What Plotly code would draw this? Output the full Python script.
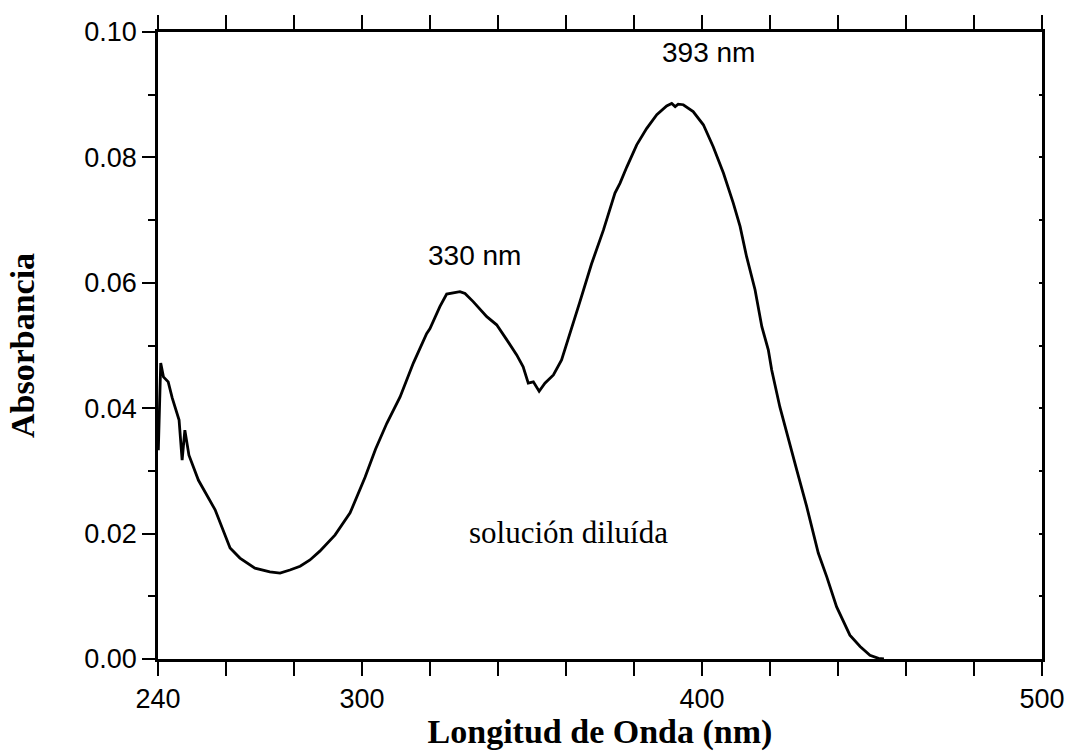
import plotly.graph_objects as go

wavelength_nm = [240.1, 240.8, 241.6, 243.0, 244.2, 246.2, 247.1, 247.9, 249.1, 251.9,
                 256.8, 261.2, 264.1, 268.5, 272.9, 275.9, 278.8, 281.8, 284.7, 287.6,
                 292.1, 296.5, 300.9, 304.0, 307.3, 311.2, 315.1, 319.0, 320.0, 322.9,
                 324.9, 326.9, 328.8, 330.3, 332.7, 336.7, 339.6, 342.6, 345.5, 347.4,
                 348.9, 350.4, 352.1, 353.8, 356.3, 358.7, 361.2, 364.1, 367.5, 371.0,
                 374.4, 375.9, 377.9, 380.8, 383.7, 386.7, 389.6, 391.1, 392.1, 393.0,
                 394.5, 397.4, 400.4, 403.3, 406.3, 409.2, 411.2, 413.1, 415.6, 417.6,
                 419.5, 420.5, 422.9, 424.9, 427.9, 430.8, 434.2, 436.7, 439.6, 443.5,
                 446.5, 449.4, 451.9, 453.5]
absorbance = [0.0333, 0.0472, 0.0450, 0.0442, 0.0416, 0.0381, 0.0317, 0.0365, 0.0325, 0.0285,
              0.0238, 0.0177, 0.0161, 0.0145, 0.0139, 0.0137, 0.0142, 0.0148, 0.0158, 0.0172,
              0.0198, 0.0233, 0.0290, 0.0335, 0.0376, 0.0418, 0.0472, 0.0519, 0.0527, 0.0562,
              0.0582, 0.0584, 0.0586, 0.0583, 0.0570, 0.0546, 0.0533, 0.0509, 0.0485, 0.0466,
              0.0440, 0.0442, 0.0427, 0.0440, 0.0453, 0.0477, 0.0519, 0.0570, 0.0630, 0.0684,
              0.0743, 0.0759, 0.0785, 0.0820, 0.0846, 0.0868, 0.0882, 0.0886, 0.0881, 0.0885,
              0.0884, 0.0873, 0.0852, 0.0817, 0.0775, 0.0727, 0.0690, 0.0642, 0.0589, 0.0530,
              0.0493, 0.0461, 0.0402, 0.0360, 0.0301, 0.0243, 0.0169, 0.0131, 0.0083, 0.0038,
              0.0020, 0.0006, 0.0001, 0.0000]

x_ticks = [240, 300, 400, 500]
peak_labels = ["330 nm", "393 nm"]
peak_label_x = [333.0, 402.0]
peak_label_y = [0.0644, 0.0968]
sample_label = "solución diluída"

TICKFONT = dict(family="Liberation Sans, Arial", size=27, color="black")
TITLEFONT = dict(family="Liberation Serif, Times New Roman", size=34, color="black", weight="bold")

fig = go.Figure()
fig.add_trace(go.Scatter(x=wavelength_nm, y=absorbance, mode="lines",
                         line=dict(color="black", width=2.8), showlegend=False,
                         hoverinfo="skip"))
fig.add_trace(go.Scatter(x=[None], y=[None], yaxis="y2", showlegend=False, hoverinfo="skip"))

for txt, x, y in zip(peak_labels, peak_label_x, peak_label_y):
    fig.add_annotation(x=x, y=y, text=txt, showarrow=False,
                       font=dict(family="Liberation Sans, Arial", size=28, color="black"))
fig.add_annotation(x=360.6, y=0.0201, text=sample_label, showarrow=False,
                   font=dict(family="Liberation Serif, Times New Roman", size=31, color="black"))

fig.update_layout(
    width=1071, height=751,
    margin=dict(l=158, r=29, t=32, b=92),
    paper_bgcolor="white", plot_bgcolor="white",
    xaxis=dict(range=[240, 500], tickvals=x_ticks, ticktext=[str(v) for v in x_ticks],
               ticks="outside", ticklen=14, tickwidth=2, tickcolor="black",
               minor=dict(tick0=240, dtick=20, ticks="outside", ticklen=7, tickwidth=2,
                          tickcolor="black", showgrid=False),
               showline=True, linewidth=2.5, linecolor="black", mirror="allticks",
               showgrid=False, zeroline=False, tickfont=TICKFONT, automargin=False,
               title=dict(text="Longitud de Onda (nm)", font=TITLEFONT, standoff=6)),
    yaxis=dict(range=[0, 0.1], dtick=0.02, tick0=0, tickformat=".2f",
               ticks="outside", ticklen=13, tickwidth=2, tickcolor="black",
               minor=dict(dtick=0.01, ticks="outside", ticklen=7, tickwidth=2,
                          tickcolor="black", showgrid=False),
               showline=True, linewidth=2.5, linecolor="black", mirror=True,
               showgrid=False, zeroline=False, tickfont=TICKFONT, automargin=False,
               title=dict(text="Absorbancia", font=TITLEFONT, standoff=40)),
    yaxis2=dict(range=[0, 0.1], overlaying="y", side="right", dtick=0.02, tick0=0,
                ticks="inside", ticklen=3, tickwidth=2, tickcolor="black",
                minor=dict(dtick=0.01, ticks="inside", ticklen=3, tickwidth=2,
                           tickcolor="black", showgrid=False),
                showticklabels=False, showline=False, showgrid=False, zeroline=False,
                automargin=False),
)

fig.write_html("out.html")
